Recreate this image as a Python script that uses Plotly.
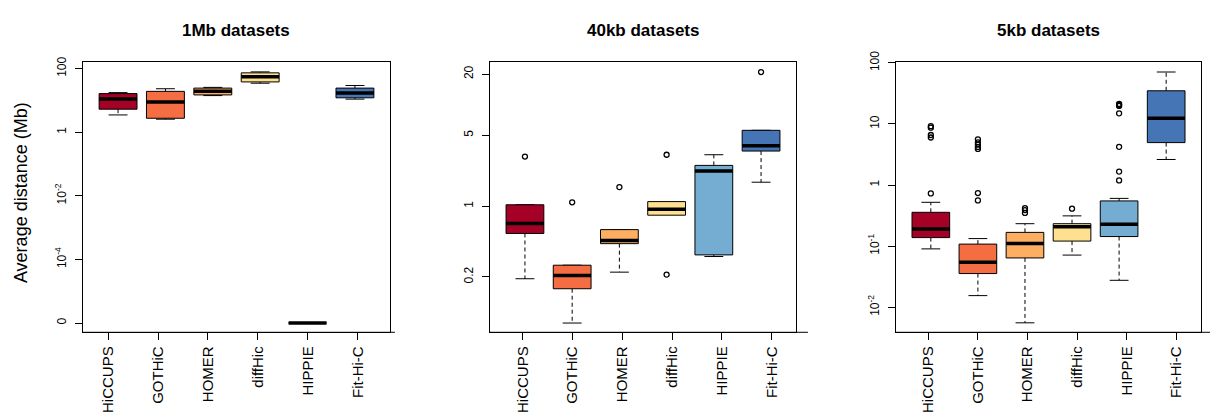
import plotly.graph_objects as go

# Methods compared in every panel
methods = ["HiCCUPS", "GOTHiC", "HOMER", "diffHic", "HIPPIE", "Fit-Hi-C"]
method_colors = ["#A50026", "#F46D43", "#FDAE61", "#FEE090", "#74ADD1", "#4575B4"]

# Box statistics (Mb): lower whisker, Q1, median, Q3, upper whisker, outliers
# 1Mb datasets (HIPPIE reports a distance of 0 everywhere)
mb1_low = [3.5, 2.57, 14.2, 34.8, 0, 11.0]
mb1_q1 = [5.3, 2.75, 14.9, 38.2, 0, 12.1]
mb1_med = [11.0, 8.9, 19.3, 55.6, 0, 17.2]
mb1_q3 = [16.4, 19.3, 24.4, 73.6, 0, 24.4]
mb1_high = [17.6, 23.3, 25.7, 79.0, 0, 29.5]
mb1_out = [[], [], [], [], [], []]

# 40kb datasets
kb40_low = [0.192, 0.0702, 0.223, 0.813, 0.318, 1.72]
kb40_q1 = [0.537, 0.153, 0.426, 0.813, 0.330, 3.49]
kb40_med = [0.675, 0.207, 0.458, 0.929, 2.22, 3.93]
kb40_q3 = [1.03, 0.261, 0.586, 1.107, 2.52, 5.59]
kb40_high = [1.03, 0.261, 0.586, 1.107, 3.21, 5.59]
kb40_out = [[3.08], [1.09], [1.54], [3.21, 0.211], [], [21.0]]

# 5kb datasets
kb5_low = [0.0902, 0.0155, 0.00556, 0.0714, 0.0276, 2.62]
kb5_q1 = [0.138, 0.0356, 0.0641, 0.121, 0.1435, 4.95]
kb5_med = [0.190, 0.0547, 0.111, 0.208, 0.229, 12.4]
kb5_q3 = [0.358, 0.108, 0.168, 0.233, 0.55, 34.9]
kb5_high = [0.522, 0.133, 0.233, 0.313, 0.605, 70.8]
kb5_out = [
    [9.2, 8.7, 6.6, 6.0, 0.73],
    [5.6, 5.0, 4.6, 4.2, 3.9, 0.74, 0.56],
    [0.42, 0.39, 0.35],
    [0.41],
    [21.3, 20.5, 19.7, 14.9, 4.22, 1.66, 1.19],
    [],
]

# Zero distances are placed at this floor on the log axis and labelled "0"
ZERO_FLOOR = 1e-6

# y tick values / labels per panel
mb1_ticks = [100, 1, 1e-2, 1e-4, ZERO_FLOOR]
mb1_ticktext = ["100", "1", "10<sup>-2</sup>", "10<sup>-4</sup>", "0"]
kb40_ticks = [20, 5, 1, 0.2]
kb40_ticktext = ["20", "5", "1", "0.2"]
kb5_ticks = [100, 10, 1, 0.1, 0.01]
kb5_ticktext = ["100", "10", "1", "10<sup>-1</sup>", "10<sup>-2</sup>"]

FONT = "Liberation Sans, Arial, Helvetica, sans-serif"

panels = [
    dict(title="1Mb datasets", low=mb1_low, q1=mb1_q1, med=mb1_med, q3=mb1_q3,
         high=mb1_high, out=mb1_out, ticks=mb1_ticks, ticktext=mb1_ticktext,
         yrange=[-6.29, 2.22], xdom=[83 / 1210, 390 / 1210],
         tick_start=0.79, axis_ext=1.016),
    dict(title="40kb datasets", low=kb40_low, q1=kb40_q1, med=kb40_med, q3=kb40_q3,
         high=kb40_high, out=kb40_out, ticks=kb40_ticks, ticktext=kb40_ticktext,
         yrange=[-1.245, 1.425], xdom=[490 / 1210, 796 / 1210],
         tick_start=0.955, axis_ext=1.039),
    dict(title="5kb datasets", low=kb5_low, q1=kb5_q1, med=kb5_med, q3=kb5_q3,
         high=kb5_high, out=kb5_out, ticks=kb5_ticks, ticktext=kb5_ticktext,
         yrange=[-2.41, 2.02], xdom=[896 / 1210, 1201 / 1210],
         tick_start=0.945, axis_ext=1.04),
]

TICK_STEP = 1.054
BOX_HALF = 0.4
STAPLE_HALF = 0.2
YDOM = [1 - 330 / 417, 1 - 52 / 417]


def floor0(v):
    return v if v > 0 else ZERO_FLOOR


fig = go.Figure()
annotations = []
shapes = []

for k, p in enumerate(panels):
    xa = "x" if k == 0 else f"x{k + 1}"
    ya = "y" if k == 0 else f"y{k + 1}"
    positions = list(range(1, len(methods) + 1))

    # dashed whiskers and solid staples
    wx, wy, sx, sy = [], [], [], []
    for i, pos in enumerate(positions):
        lo, q1, q3, hi = (floor0(p["low"][i]), floor0(p["q1"][i]),
                          floor0(p["q3"][i]), floor0(p["high"][i]))
        if hi > q3:
            wx += [pos, pos, None]
            wy += [q3, hi, None]
        if lo < q1:
            wx += [pos, pos, None]
            wy += [q1, lo, None]
        if lo < q1 or hi > q3:
            sx += [pos - STAPLE_HALF, pos + STAPLE_HALF, None,
                   pos - STAPLE_HALF, pos + STAPLE_HALF, None]
            sy += [hi, hi, None, lo, lo, None]
    fig.add_trace(go.Scatter(x=wx, y=wy, mode="lines", xaxis=xa, yaxis=ya,
                             line=dict(color="black", width=1, dash="4px,3px"),
                             hoverinfo="skip", showlegend=False))
    fig.add_trace(go.Scatter(x=sx, y=sy, mode="lines", xaxis=xa, yaxis=ya,
                             line=dict(color="black", width=1),
                             hoverinfo="skip", showlegend=False))

    # boxes
    for i, pos in enumerate(positions):
        q1, q3 = floor0(p["q1"][i]), floor0(p["q3"][i])
        fig.add_trace(go.Scatter(
            x=[pos - BOX_HALF, pos + BOX_HALF, pos + BOX_HALF, pos - BOX_HALF, pos - BOX_HALF],
            y=[q1, q1, q3, q3, q1], mode="lines", fill="toself",
            fillcolor=method_colors[i], line=dict(color="black", width=1),
            xaxis=xa, yaxis=ya, name=methods[i], showlegend=False))

    # medians
    mx, my = [], []
    for i, pos in enumerate(positions):
        m = floor0(p["med"][i])
        mx += [pos - BOX_HALF, pos + BOX_HALF, None]
        my += [m, m, None]
    fig.add_trace(go.Scatter(x=mx, y=my, mode="lines", xaxis=xa, yaxis=ya,
                             line=dict(color="black", width=3.5),
                             hoverinfo="skip", showlegend=False))

    # outliers
    ox, oy = [], []
    for i, pos in enumerate(positions):
        for v in p["out"][i]:
            ox.append(pos)
            oy.append(floor0(v))
    fig.add_trace(go.Scatter(x=ox, y=oy, mode="markers", xaxis=xa, yaxis=ya,
                             marker=dict(symbol="circle-open", size=5, color="black",
                                         line=dict(color="black", width=1.3)),
                             hoverinfo="skip", showlegend=False))

    tickpos = [p["tick_start"] + TICK_STEP * j for j in range(len(methods))]
    xkey = "xaxis" if k == 0 else f"xaxis{k + 1}"
    ykey = "yaxis" if k == 0 else f"yaxis{k + 1}"
    fig.update_layout(**{
        xkey: dict(domain=p["xdom"], range=[0.26, 6.74], anchor=ya,
                   tickvals=tickpos, ticktext=methods, tickangle=-90,
                   ticks="outside", ticklen=7, tickcolor="black",
                   showline=True, mirror=True, linecolor="black", linewidth=1,
                   showgrid=False, zeroline=False,
                   tickfont=dict(family=FONT, size=15, color="black")),
        ykey: dict(domain=YDOM, type="log", range=p["yrange"], anchor=xa,
                   tickvals=p["ticks"], ticktext=p["ticktext"], tickangle=-90,
                   ticks="outside", ticklen=7, tickcolor="black",
                   ticklabelstandoff=4,
                   showline=True, mirror=True, linecolor="black", linewidth=1,
                   showgrid=False, zeroline=False,
                   tickfont=dict(family=FONT, size=12, color="black")),
    })

    # bottom axis line running slightly past the plot frame
    shapes.append(dict(type="line", xref=f"{xa} domain", yref=f"{ya} domain",
                       x0=0, x1=p["axis_ext"], y0=0, y1=0,
                       line=dict(color="black", width=1)))

    annotations.append(dict(text=f"<b>{p['title']}</b>", xref="paper", yref="paper",
                            x=(p["xdom"][0] + p["xdom"][1]) / 2, y=1 - 20.5 / 417,
                            xanchor="center", yanchor="middle", showarrow=False,
                            font=dict(family=FONT, size=17, color="black")))

annotations.append(dict(text="Average distance (Mb)", xref="paper", yref="paper",
                        x=21 / 1210, y=1 - 187 / 417, textangle=-90,
                        xanchor="center", yanchor="middle", showarrow=False,
                        font=dict(family=FONT, size=18, color="black")))

fig.update_layout(width=1210, height=417, margin=dict(l=0, r=0, t=0, b=0),
                  paper_bgcolor="white", plot_bgcolor="white",
                  annotations=annotations, shapes=shapes, showlegend=False)

fig.write_html("out.html")
